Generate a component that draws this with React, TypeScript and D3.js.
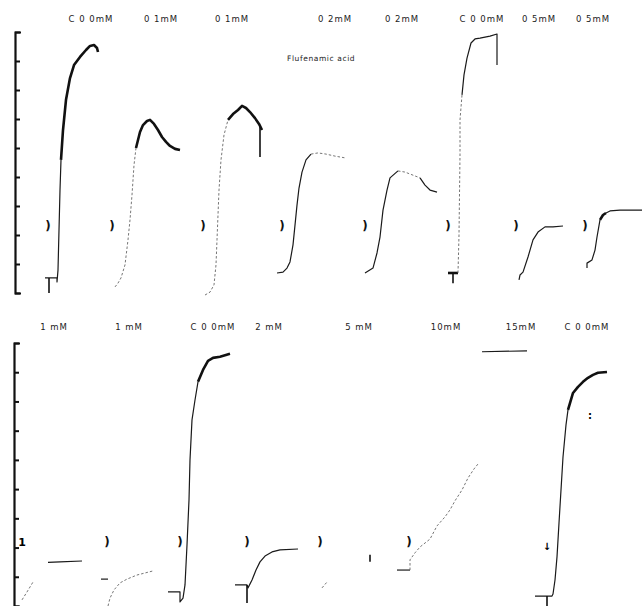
import * as d3 from "d3";
import React from "react";

// time in s along the recorder chart, response in arbitrary units (ticks every 10)
const tickValues = [0, 10, 20, 30, 40, 50, 60, 70, 80, 90];

// ---- top panel ----
const topLabels = ["C 0 0mM", "0 1mM", "0 1mM", "0 2mM", "0 2mM", "C 0 0mM", "0 5mM", "0 5mM"];
const topLabelTimes = [91, 161, 232, 335, 402, 482, 539, 593];

const topTrace1 = [[45, 5.2], [57, 5.2], [57, 3.8], [58, 7.9], [59, 21.7], [60, 35.5], [61, 45.9], [63, 56.2], [66, 66.6], [70, 74.1], [74, 78.6], [80, 81.4], [86, 83.8], [90, 85.2], [94, 85.5], [97, 84.5], [98, 83.1]];
const topTrace2 = [[115, 2.1], [118, 3.4], [121, 5.2], [125, 9.7], [128, 18.3], [130, 25.2], [132, 33.8], [134, 44.1], [136, 50.0], [140, 55.5], [143, 57.9], [147, 59.3], [150, 59.7], [154, 58.3], [158, 56.2], [162, 53.8], [166, 52.1], [170, 50.7], [175, 49.7], [180, 49.3]];
const topTrace3 = [[205, -0.7], [210, 0.3], [214, 2.8], [216, 9.7], [217, 18.3], [218, 26.9], [219, 35.5], [221, 45.9], [224, 54.5], [228, 59.7], [233, 61.7], [238, 63.1], [242, 64.5], [246, 63.8], [250, 62.4], [255, 60.3], [259, 58.3], [262, 56.2]];
const topTrace4 = [[277, 6.9], [283, 7.2], [287, 8.6], [290, 10.7], [293, 16.6], [295, 23.4], [297, 30.3], [299, 36.2], [302, 41.7], [306, 45.9], [311, 47.9], [318, 48.3], [326, 47.9], [335, 47.2], [345, 46.6]];
const topTrace5 = [[365, 6.9], [373, 8.6], [377, 13.8], [380, 19.3], [383, 28.6], [387, 35.5], [390, 39.7], [398, 42.1], [405, 41.7], [420, 39.7], [425, 37.2], [430, 35.5], [437, 34.8]];
const topTrace6 = [[448, 6.9], [458, 6.9], [459, 20], [460, 47.6], [460, 59.7], [462, 68.3], [464, 75.2], [467, 81.0], [471, 86.2], [475, 87.6], [480, 87.9], [490, 88.6], [497, 89.3], [497, 78.6]];
const topTrace7 = [[519, 4.5], [520, 6.2], [523, 7.2], [528, 12.4], [533, 18.3], [538, 21.0], [545, 22.8], [553, 22.8], [563, 23.1]];
const topTrace8 = [[587, 8.6], [587, 10.3], [592, 11.4], [595, 14.8], [597, 19.3], [600, 25.2], [603, 26.9], [606, 27.6], [610, 28.3], [620, 28.6], [642, 28.6]];

const topTraces = [topTrace1, topTrace2, topTrace3, topTrace4, topTrace5, topTrace6, topTrace7, topTrace8];
// [from index, to index, stroke kind]
const topStyles = [
  [[0, 6, "thin"], [6, 16, "thick"]],
  [[0, 8, "faint"], [8, 19, "thick"]],
  [[0, 9, "faint"], [9, 17, "thick"]],
  [[0, 10, "thin"], [10, 14, "faint"]],
  [[0, 7, "thin"], [7, 9, "faint"], [9, 12, "thin"]],
  [[0, 1, "thick"], [1, 5, "faint"], [5, 13, "thin"]],
  [[0, 8, "thin"]],
  [[0, 5, "thin"], [5, 7, "thick"], [7, 10, "thin"]],
];
// vertical pen strokes: time, from, to
const topStrokes = [[49, 5.2, 0], [453, 6.9, 3.4], [260, 57.9, 46.9]];
const topMarkerTimes = [48, 112, 203, 282, 365, 448, 516, 585];
const topMarkerValue = 23.1;

// ---- bottom panel ----
const bottomLabels = ["1 mM", "1 mM", "C 0 0mM", "2 mM", "5 mM", "10mM", "15mM", "C 0 0mM"];
const bottomLabelTimes = [54, 129, 213, 269, 359, 446, 521, 587];

const botTrace1a = [[22, 2.1], [27, 4.8], [33, 8.2]];
const botTrace1b = [[48, 14.9], [60, 15.1], [82, 15.4]];
const botTrace2a = [[101, 9.2], [108, 9.2]];
const botTrace2b = [[108, 0], [110, 2.7], [114, 5.5], [120, 7.9], [127, 9.2], [137, 10.6], [145, 11.3], [153, 12.0]];
const botTrace3 = [[168, 4.8], [180, 4.8], [180, 1.4], [183, 2.7], [185, 7.2], [187, 20.9], [189, 36.3], [190, 50.0], [192, 63.7], [195, 70.5], [198, 76.7], [203, 80.8], [208, 83.9], [213, 84.9], [220, 85.3], [230, 86.3]];
const botTrace4 = [[235, 7.2], [247, 7.2], [248, 6.2], [252, 8.9], [256, 12.3], [260, 15.1], [265, 17.1], [272, 18.5], [280, 19.2], [298, 19.5]];
const botTrace5 = [[322, 6.2], [327, 8.2]];
const botTrace6 = [[397, 12.3], [410, 12.3], [410, 15.8], [415, 18.2], [420, 20.2], [430, 22.9], [437, 27.4], [445, 30.5], [450, 32.9], [455, 36.0], [462, 39.7], [468, 43.8], [474, 46.9], [478, 48.6]];
const botTrace7 = [[482, 87.0], [527, 87.3]];
const botTrace8 = [[535, 3.4], [552, 3.4], [553, 4.1], [555, 8.9], [557, 16.8], [559, 28.4], [561, 39.7], [563, 51.0], [566, 62.0], [568, 67.1], [573, 72.9], [578, 75.0], [583, 76.7], [588, 78.1], [593, 79.1], [598, 79.8], [607, 80.1]];

const bottomTraces = [botTrace1a, botTrace1b, botTrace2a, botTrace2b, botTrace3, botTrace4, botTrace5, botTrace6, botTrace7, botTrace8];
const bottomStyles = [
  [[0, 2, "faint"]],
  [[0, 2, "thin"]],
  [[0, 1, "thin"]],
  [[0, 7, "faint"]],
  [[0, 10, "thin"], [10, 15, "thick"]],
  [[0, 9, "thin"]],
  [[0, 1, "faint"]],
  [[0, 1, "thin"], [1, 13, "faint"]],
  [[0, 1, "thin"]],
  [[0, 9, "thin"], [9, 16, "thick"]],
];
const bottomStrokes = [[247, 7.2, 1.0], [547, 3.4, -1], [370, 17.5, 15.1]];
const bottomMarkerTimes = [107, 180, 247, 320, 409];
const bottomMarkerValue = 21.6;

const strokeKinds = {
  thin: { color: "#1a1a1a", width: 1.2, dash: null },
  thick: { color: "#111", width: 2.6, dash: null },
  faint: { color: "#666", width: 0.9, dash: "2.5,2" },
};

const App = () => {
  const ref = React.useRef();

  React.useEffect(() => {
    const width = 642,
      height = 606;
    const svg = d3.select(ref.current);
    svg.selectAll("*").remove();
    svg.attr("width", width).attr("height", height);

    svg.append("rect").attr("width", width).attr("height", height).attr("fill", "white");

    const x = d3.scaleLinear().domain([0, 640]).range([0, 640]);
    const yTop = d3.scaleLinear().domain([0, 90]).range([293, 32]);
    const yBot = d3.scaleLinear().domain([0, 90]).range([606, 343]);

    const drawPanel = (y, axisX, traces, styles, strokes, markerTimes, markerValue, labels, labelTimes, labelY) => {
      const g = svg.append("g");

      // axis bracket with ticks pointing in
      const axis = d3.axisRight(y).tickValues(tickValues).tickSize(5).tickSizeOuter(6).tickFormat(() => "");
      const axisGroup = g.append("g").attr("transform", `translate(${axisX},0)`).call(axis);
      axisGroup.select(".domain").attr("stroke", "#111").attr("stroke-width", 2.2);
      axisGroup.selectAll(".tick line").attr("stroke", "#111").attr("stroke-width", 2);

      const line = d3
        .line()
        .x((d) => x(d[0]))
        .y((d) => y(d[1]))
        .curve(d3.curveLinear);

      traces.forEach((tr, i) => {
        styles[i].forEach(([a, b, kind]) => {
          const st = strokeKinds[kind];
          g.append("path")
            .datum(tr.slice(a, b + 1))
            .attr("d", line)
            .attr("fill", "none")
            .attr("stroke", st.color)
            .attr("stroke-width", st.width)
            .attr("stroke-linejoin", "round")
            .attr("stroke-dasharray", st.dash);
        });
      });

      g.selectAll(".stroke")
        .data(strokes)
        .enter()
        .append("line")
        .attr("x1", (d) => x(d[0]))
        .attr("x2", (d) => x(d[0]))
        .attr("y1", (d) => y(d[1]))
        .attr("y2", (d) => y(d[2]))
        .attr("stroke", "#111")
        .attr("stroke-width", 1.6);

      g.selectAll(".marker")
        .data(markerTimes)
        .enter()
        .append("text")
        .attr("x", (d) => x(d))
        .attr("y", y(markerValue))
        .attr("text-anchor", "middle")
        .attr("dominant-baseline", "middle")
        .attr("font-family", "DejaVu Sans")
        .attr("font-weight", "bold")
        .attr("font-size", 12)
        .attr("fill", "#111")
        .text(")");

      g.selectAll(".label")
        .data(labels)
        .enter()
        .append("text")
        .attr("x", (d, i) => x(labelTimes[i]))
        .attr("y", labelY)
        .attr("text-anchor", "middle")
        .attr("font-family", "DejaVu Sans")
        .attr("font-size", 8.5)
        .attr("letter-spacing", 1)
        .attr("fill", "#222")
        .text((d) => d);

      return g;
    };

    drawPanel(yTop, 15, topTraces, topStyles, topStrokes, topMarkerTimes, topMarkerValue, topLabels, topLabelTimes, 22);
    const bottom = drawPanel(yBot, 14, bottomTraces, bottomStyles, bottomStrokes, bottomMarkerTimes, bottomMarkerValue, bottomLabels, bottomLabelTimes, 330);

    svg
      .append("text")
      .attr("x", x(287))
      .attr("y", 61)
      .attr("font-family", "DejaVu Sans")
      .attr("font-size", 7.5)
      .attr("letter-spacing", 0.6)
      .attr("fill", "#222")
      .text("Flufenamic acid");

    // odd pen marks in the lower panel
    bottom
      .append("text")
      .attr("x", x(22))
      .attr("y", yBot(bottomMarkerValue))
      .attr("text-anchor", "middle")
      .attr("dominant-baseline", "middle")
      .attr("font-family", "DejaVu Sans")
      .attr("font-weight", "bold")
      .attr("font-size", 11)
      .text("1");
    bottom
      .append("text")
      .attr("x", x(547))
      .attr("y", yBot(20.2))
      .attr("text-anchor", "middle")
      .attr("dominant-baseline", "middle")
      .attr("font-family", "DejaVu Sans")
      .attr("font-weight", "bold")
      .attr("font-size", 10)
      .text("↓");
    bottom
      .append("text")
      .attr("x", x(590))
      .attr("y", yBot(65))
      .attr("text-anchor", "middle")
      .attr("dominant-baseline", "middle")
      .attr("font-family", "DejaVu Sans")
      .attr("font-weight", "bold")
      .attr("font-size", 10)
      .text(":");
  }, []);

  return <svg ref={ref} style={{ position: "absolute", left: 0, top: 0, display: "block" }} />;
};

export default App;
